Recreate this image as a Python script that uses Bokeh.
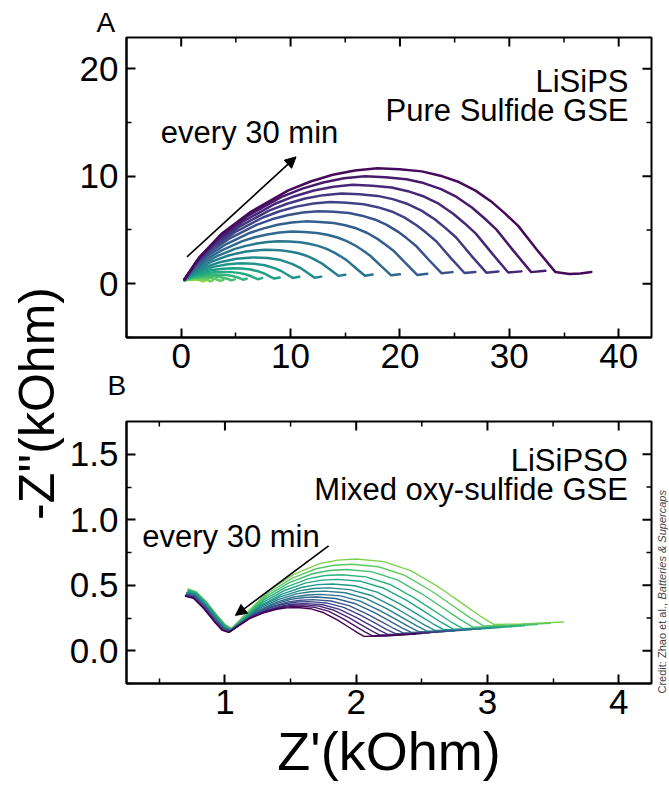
import math
from bokeh.plotting import figure
from bokeh.models import (Range1d, FixedTicker, Label, Arrow, NormalHead,
                          PrintfTickFormatter, Title)
from bokeh.layouts import row, column
from bokeh.embed import file_html
from bokeh.resources import INLINE
from bokeh.palettes import Viridis256

# ---------------- data: panel A (LiSiPS, kOhm), largest (latest) first ----------------
A_zre = [
    [0.3, 1.66, 3.69, 6.4, 9.8, 11.83, 13.86, 15.89, 17.93, 19.96, 22.0, 23.69, 25.39, 26.91, 28.44, 29.62, 30.81, 32.5, 34.2, 35.5, 36.5, 37.5],
    [0.3, 1.57, 3.47, 6.01, 9.18, 11.08, 12.98, 14.88, 16.78, 18.69, 20.59, 22.17, 23.76, 25.18, 26.61, 27.72, 28.83, 30.42, 32.0, 33.3],
    [0.3, 1.48, 3.26, 5.63, 8.59, 10.36, 12.14, 13.92, 15.69, 17.47, 19.24, 20.72, 22.2, 23.54, 24.87, 25.9, 26.94, 28.42, 29.9, 31.1],
    [0.3, 1.40, 3.06, 5.27, 8.03, 9.68, 11.34, 13.0, 14.65, 16.31, 17.96, 19.34, 20.72, 21.97, 23.21, 24.17, 25.14, 26.52, 27.9, 29.0],
    [0.3, 1.32, 2.86, 4.91, 7.47, 9.0, 10.54, 12.08, 13.61, 15.15, 16.68, 17.96, 19.24, 20.4, 21.55, 22.44, 23.34, 24.62, 25.9, 26.9],
    [0.3, 1.24, 2.65, 4.53, 6.88, 8.29, 9.7, 11.11, 12.52, 13.93, 15.34, 16.52, 17.69, 18.75, 19.81, 20.63, 21.45, 22.63, 23.8, 24.8],
    [0.3, 1.15, 2.43, 4.13, 6.26, 7.54, 8.82, 10.1, 11.38, 12.65, 13.93, 15.0, 16.06, 17.02, 17.98, 18.72, 19.47, 20.54, 21.6, 22.5],
    [0.3, 1.06, 2.19, 3.70, 5.59, 6.73, 7.86, 8.99, 10.13, 11.26, 12.40, 13.34, 14.29, 15.14, 15.99, 16.65, 17.31, 18.26, 19.2, 20.0],
    [0.3, 0.96, 1.95, 3.27, 4.92, 5.91, 6.9, 7.89, 8.88, 9.87, 10.86, 11.69, 12.51, 13.25, 14.0, 14.57, 15.15, 15.98, 16.8, 17.5],
    [0.3, 0.86, 1.71, 2.84, 4.25, 5.09, 5.94, 6.79, 7.63, 8.48, 9.32, 10.03, 10.73, 11.37, 12.0, 12.5, 12.99, 13.70, 14.4, 15.0],
    [0.3, 0.78, 1.49, 2.44, 3.63, 5.06, 6.49, 7.92, 9.11, 10.18, 11.01, 11.61, 12.2, 12.8],
    [0.3, 0.70, 1.29, 2.08, 3.07, 4.26, 5.45, 6.64, 7.63, 8.52, 9.21, 9.71, 10.2, 10.8],
    [0.3, 0.63, 1.12, 1.78, 2.60, 3.58, 4.56, 5.55, 6.37, 7.11, 7.68, 8.09, 8.5, 9.0],
    [0.3, 0.57, 0.97, 1.51, 2.18, 2.98, 3.78, 4.59, 5.26, 5.86, 6.33, 6.67, 7.0, 7.4],
    [0.3, 0.52, 0.84, 1.27, 1.81, 2.46, 3.11, 3.76, 4.30, 4.78, 5.16, 5.43, 5.7, 6.0],
    [0.3, 0.47, 0.73, 1.07, 1.50, 2.02, 2.54, 3.05, 3.48, 3.87, 4.17, 4.39, 4.6, 4.9],
    [0.3, 0.43, 0.63, 0.89, 1.22, 1.62, 2.02, 2.41, 2.74, 3.04, 3.27, 3.44, 3.6, 3.85],
    [0.3, 0.40, 0.54, 0.73, 0.97, 1.26, 1.55, 1.84, 2.08, 2.29, 2.46, 2.58, 2.7, 2.9],
    [0.3, 0.37, 0.47, 0.61, 0.78, 0.98, 1.18, 1.39, 1.56, 1.71, 1.83, 1.92, 2.0, 2.2],
]
A_zim = [
    [0.4, 2.47, 4.64, 6.71, 8.68, 9.51, 10.13, 10.54, 10.75, 10.65, 10.45, 10.05, 9.46, 8.66, 7.57, 6.52, 5.38, 3.19, 1.1, 0.9, 0.95, 1.1],
    [0.4, 2.32, 4.34, 6.26, 8.08, 8.85, 9.42, 9.81, 10.0, 9.91, 9.72, 9.36, 8.80, 8.07, 7.06, 6.09, 5.03, 3.01, 1.08, 1.2],
    [0.4, 2.16, 4.01, 5.77, 7.44, 8.14, 8.67, 9.02, 9.2, 9.12, 8.95, 8.61, 8.11, 7.44, 6.51, 5.63, 4.66, 2.82, 1.05, 1.15],
    [0.4, 2.0, 3.68, 5.28, 6.8, 7.44, 7.92, 8.24, 8.4, 8.32, 8.17, 7.87, 7.41, 6.8, 5.97, 5.17, 4.30, 2.62, 1.03, 1.13],
    [0.4, 1.84, 3.35, 4.79, 6.16, 6.74, 7.17, 7.46, 7.6, 7.53, 7.40, 7.12, 6.72, 6.17, 5.42, 4.71, 3.93, 2.43, 1.0, 1.1],
    [0.4, 1.67, 3.0, 4.27, 5.48, 5.99, 6.37, 6.62, 6.75, 6.69, 6.57, 6.33, 5.98, 5.5, 4.85, 4.22, 3.54, 2.23, 0.98, 1.08],
    [0.4, 1.48, 2.61, 3.69, 4.72, 5.15, 5.48, 5.69, 5.8, 5.75, 5.65, 5.44, 5.13, 4.72, 4.15, 3.61, 3.02, 1.89, 0.81, 0.92],
    [0.4, 1.29, 2.22, 3.11, 3.96, 4.32, 4.58, 4.76, 4.85, 4.81, 4.72, 4.56, 4.30, 3.97, 3.51, 3.07, 2.58, 1.66, 0.78, 0.88],
    [0.4, 1.11, 1.86, 2.57, 3.24, 3.52, 3.74, 3.88, 3.95, 3.92, 3.85, 3.72, 3.52, 3.26, 2.89, 2.55, 2.17, 1.44, 0.75, 0.85],
    [0.4, 0.95, 1.53, 2.08, 2.6, 2.82, 2.99, 3.10, 3.15, 3.13, 3.08, 2.98, 2.83, 2.63, 2.35, 2.09, 1.8, 1.25, 0.73, 0.83],
    [0.35, 0.77, 1.21, 1.63, 2.03, 2.32, 2.45, 2.39, 2.20, 1.83, 1.40, 0.97, 0.56, 0.66],
    [0.35, 0.66, 0.99, 1.30, 1.59, 1.81, 1.9, 1.86, 1.72, 1.45, 1.14, 0.84, 0.54, 0.64],
    [0.35, 0.57, 0.80, 1.02, 1.23, 1.38, 1.45, 1.42, 1.32, 1.13, 0.91, 0.69, 0.48, 0.58],
    [0.35, 0.5, 0.66, 0.81, 0.95, 1.06, 1.1, 1.08, 1.01, 0.88, 0.72, 0.57, 0.42, 0.52],
    [0.35, 0.45, 0.56, 0.66, 0.75, 0.82, 0.85, 0.84, 0.79, 0.69, 0.58, 0.47, 0.37, 0.47],
    [0.35, 0.42, 0.49, 0.55, 0.61, 0.66, 0.68, 0.67, 0.63, 0.56, 0.47, 0.39, 0.31, 0.41],
    [0.35, 0.39, 0.43, 0.47, 0.51, 0.54, 0.55, 0.54, 0.51, 0.45, 0.39, 0.32, 0.26, 0.36],
    [0.3, 0.33, 0.36, 0.39, 0.42, 0.44, 0.45, 0.44, 0.42, 0.37, 0.32, 0.26, 0.21, 0.31],
    [0.3, 0.32, 0.33, 0.35, 0.36, 0.375, 0.38, 0.37, 0.36, 0.32, 0.28, 0.24, 0.21, 0.3],
]

# ---------------- data: panel B (LiSiPSO, kOhm), first (highest) first ----------------
B_zre = [
    [0.72, 0.78, 0.86, 0.94, 1.00, 1.05, 1.164, 1.335, 1.525, 1.715, 1.858, 2.0, 2.21, 2.42, 2.63, 2.788, 2.945, 3.05, 3.26, 3.58],
    [0.72, 0.78, 0.86, 0.94, 1.00, 1.05, 1.16, 1.326, 1.51, 1.694, 1.832, 1.97, 2.17, 2.37, 2.57, 2.72, 2.87, 2.97, 3.17, 3.48],
    [0.72, 0.78, 0.86, 0.94, 1.00, 1.05, 1.156, 1.314, 1.49, 1.666, 1.798, 1.93, 2.122, 2.314, 2.506, 2.65, 2.794, 2.89, 3.09, 3.38],
    [0.72, 0.78, 0.86, 0.94, 1.00, 1.05, 1.151, 1.302, 1.47, 1.638, 1.764, 1.89, 2.074, 2.258, 2.442, 2.58, 2.718, 2.81, 3.0, 3.28],
    [0.72, 0.78, 0.86, 0.94, 1.00, 1.05, 1.147, 1.293, 1.455, 1.617, 1.739, 1.86, 2.036, 2.212, 2.388, 2.52, 2.652, 2.74, 2.92, 3.19],
    [0.72, 0.78, 0.86, 0.94, 1.00, 1.05, 1.142, 1.281, 1.435, 1.589, 1.705, 1.82, 1.99, 2.16, 2.33, 2.458, 2.585, 2.67, 2.84, 3.10],
    [0.71, 0.77, 0.85, 0.93, 0.99, 1.04, 1.13, 1.265, 1.415, 1.565, 1.678, 1.79, 1.952, 2.114, 2.276, 2.398, 2.519, 2.60, 2.77, 3.02],
    [0.71, 0.77, 0.85, 0.93, 0.99, 1.04, 1.126, 1.256, 1.40, 1.544, 1.652, 1.76, 1.916, 2.072, 2.228, 2.345, 2.462, 2.54, 2.70, 2.95],
    [0.71, 0.77, 0.85, 0.93, 0.99, 1.04, 1.123, 1.247, 1.385, 1.523, 1.627, 1.73, 1.88, 2.03, 2.18, 2.293, 2.405, 2.48, 2.64, 2.88],
    [0.71, 0.77, 0.85, 0.93, 0.99, 1.04, 1.119, 1.238, 1.37, 1.502, 1.601, 1.70, 1.844, 1.988, 2.132, 2.24, 2.348, 2.42, 2.58, 2.81],
    [0.71, 0.77, 0.85, 0.93, 0.99, 1.04, 1.116, 1.229, 1.355, 1.481, 1.576, 1.67, 1.808, 1.946, 2.084, 2.188, 2.291, 2.36, 2.52, 2.75],
    [0.70, 0.76, 0.84, 0.92, 0.98, 1.03, 1.103, 1.213, 1.335, 1.457, 1.549, 1.64, 1.772, 1.904, 2.036, 2.135, 2.234, 2.30, 2.45, 2.68],
    [0.70, 0.76, 0.84, 0.92, 0.98, 1.03, 1.101, 1.207, 1.325, 1.443, 1.532, 1.62, 1.744, 1.868, 1.992, 2.085, 2.178, 2.24, 2.39, 2.62],
    [0.70, 0.76, 0.84, 0.92, 0.98, 1.03, 1.098, 1.201, 1.315, 1.429, 1.515, 1.60, 1.716, 1.832, 1.948, 2.035, 2.122, 2.18, 2.33, 2.56],
    [0.70, 0.76, 0.84, 0.92, 0.98, 1.03, 1.095, 1.194, 1.303, 1.412, 1.493, 1.575, 1.684, 1.793, 1.902, 1.984, 2.066, 2.12, 2.27, 2.50],
    [0.70, 0.76, 0.84, 0.92, 0.98, 1.03, 1.092, 1.186, 1.29, 1.394, 1.472, 1.55, 1.652, 1.754, 1.856, 1.933, 2.009, 2.06, 2.22, 2.45],
]
B_zim = [
    [0.47, 0.45, 0.37, 0.27, 0.20, 0.17, 0.287, 0.46, 0.583, 0.663, 0.692, 0.70, 0.68, 0.61, 0.485, 0.375, 0.265, 0.20, 0.205, 0.22],
    [0.47, 0.45, 0.37, 0.27, 0.20, 0.168, 0.276, 0.439, 0.552, 0.626, 0.653, 0.66, 0.641, 0.575, 0.458, 0.355, 0.251, 0.19, 0.195, 0.21],
    [0.465, 0.445, 0.365, 0.265, 0.195, 0.165, 0.265, 0.415, 0.52, 0.588, 0.613, 0.62, 0.602, 0.541, 0.431, 0.334, 0.237, 0.18, 0.185, 0.20],
    [0.46, 0.44, 0.36, 0.26, 0.19, 0.162, 0.254, 0.392, 0.488, 0.551, 0.574, 0.58, 0.564, 0.506, 0.404, 0.314, 0.223, 0.17, 0.175, 0.19],
    [0.455, 0.435, 0.355, 0.255, 0.185, 0.16, 0.245, 0.372, 0.46, 0.518, 0.539, 0.545, 0.53, 0.477, 0.382, 0.298, 0.214, 0.165, 0.17, 0.185],
    [0.45, 0.43, 0.35, 0.25, 0.18, 0.157, 0.235, 0.351, 0.432, 0.485, 0.505, 0.51, 0.496, 0.447, 0.36, 0.283, 0.206, 0.16, 0.163, 0.178],
    [0.445, 0.43, 0.35, 0.25, 0.18, 0.155, 0.227, 0.334, 0.409, 0.457, 0.475, 0.48, 0.467, 0.422, 0.34, 0.269, 0.197, 0.155, 0.158, 0.172],
    [0.44, 0.425, 0.345, 0.245, 0.175, 0.152, 0.219, 0.319, 0.388, 0.434, 0.45, 0.455, 0.443, 0.40, 0.324, 0.257, 0.19, 0.15, 0.153, 0.167],
    [0.435, 0.42, 0.34, 0.24, 0.172, 0.15, 0.212, 0.304, 0.368, 0.41, 0.426, 0.43, 0.419, 0.379, 0.307, 0.245, 0.182, 0.145, 0.148, 0.162],
    [0.43, 0.415, 0.335, 0.235, 0.17, 0.148, 0.206, 0.292, 0.352, 0.392, 0.406, 0.41, 0.399, 0.361, 0.294, 0.235, 0.175, 0.14, 0.143, 0.157],
    [0.43, 0.415, 0.335, 0.235, 0.168, 0.146, 0.20, 0.28, 0.336, 0.373, 0.386, 0.39, 0.38, 0.344, 0.28, 0.224, 0.168, 0.135, 0.138, 0.152],
    [0.425, 0.41, 0.33, 0.23, 0.165, 0.145, 0.196, 0.272, 0.324, 0.359, 0.372, 0.375, 0.365, 0.331, 0.27, 0.216, 0.162, 0.13, 0.133, 0.147],
    [0.42, 0.41, 0.33, 0.23, 0.165, 0.143, 0.191, 0.262, 0.312, 0.345, 0.357, 0.36, 0.351, 0.318, 0.259, 0.207, 0.156, 0.125, 0.128, 0.142],
    [0.42, 0.405, 0.325, 0.225, 0.16, 0.142, 0.188, 0.256, 0.304, 0.335, 0.347, 0.35, 0.341, 0.309, 0.251, 0.20, 0.15, 0.12, 0.123, 0.137],
    [0.42, 0.405, 0.325, 0.225, 0.16, 0.141, 0.185, 0.25, 0.296, 0.326, 0.337, 0.34, 0.331, 0.30, 0.243, 0.194, 0.144, 0.115, 0.118, 0.132],
    [0.415, 0.40, 0.32, 0.22, 0.155, 0.14, 0.182, 0.245, 0.288, 0.317, 0.327, 0.33, 0.321, 0.29, 0.235, 0.187, 0.139, 0.11, 0.113, 0.127],
]

A_xticks = [0, 10, 20, 30, 40]
A_xminor = [-5, 5, 15, 25, 35]
A_yticks = [0, 10, 20]
A_yminor = [-5, 5, 15]
B_xticks = [1, 2, 3, 4]
B_xminor = [0.5, 1.5, 2.5, 3.5]
B_yticks = [0.0, 0.5, 1.0, 1.5]
B_yminor = [-0.25, 0.25, 0.75, 1.25]

FONT = "Liberation Sans"
TICK_SIZE = "35px"
TEXT_SIZE = "31px"
LEFT_W = 66      # width of the strip holding the shared y label
CRED_W = 16      # width of the strip holding the credit line
TOTAL_H = 803


def style_axis(ax, standoff):
    ax.axis_line_color = "black"
    ax.axis_line_width = 2
    ax.major_tick_in = 9
    ax.major_tick_out = 0
    ax.minor_tick_in = 5
    ax.minor_tick_out = 0
    ax.major_tick_line_color = "black"
    ax.major_tick_line_width = 2
    ax.minor_tick_line_color = "black"
    ax.minor_tick_line_width = 1.5
    ax.major_label_text_font = FONT
    ax.major_label_text_color = "black"
    ax.major_label_text_font_size = TICK_SIZE
    ax.major_label_standoff = standoff


def mirror_ticks(p, xr, yr, xt, xm, yt, ym, px_x, px_y):
    # inward ticks on the top and right frame edges (px_* = data units per pixel)
    top = yr[1]
    right = xr[1]
    xs_maj = [x for x in xt if xr[0] < x < xr[1]]
    xs_min = [x for x in xm if xr[0] < x < xr[1]]
    ys_maj = [y for y in yt if yr[0] < y < yr[1]]
    ys_min = [y for y in ym if yr[0] < y < yr[1]]
    p.segment(x0=xs_maj, y0=[top] * len(xs_maj), x1=xs_maj,
              y1=[top - 9 * px_y] * len(xs_maj), line_color="black", line_width=2)
    p.segment(x0=xs_min, y0=[top] * len(xs_min), x1=xs_min,
              y1=[top - 5 * px_y] * len(xs_min), line_color="black", line_width=1.5)
    p.segment(x0=[right] * len(ys_maj), y0=ys_maj, x1=[right - 9 * px_x] * len(ys_maj),
              y1=ys_maj, line_color="black", line_width=2)
    p.segment(x0=[right] * len(ys_min), y0=ys_min, x1=[right - 5 * px_x] * len(ys_min),
              y1=ys_min, line_color="black", line_width=1.5)


def make_panel(xr, yr, xt, xm, yt, ym, mb_top, mb_bottom, frame_h, yfmt=None):
    p = figure(frame_width=525, frame_height=frame_h,
               x_range=Range1d(*xr), y_range=Range1d(*yr),
               output_backend="svg", toolbar_location=None,
               min_border_left=126 - LEFT_W, min_border_right=2,
               min_border_top=mb_top, min_border_bottom=mb_bottom,
               background_fill_color="white", border_fill_color="white")
    p.xgrid.visible = False
    p.ygrid.visible = False
    p.outline_line_color = "black"
    p.outline_line_width = 2
    p.xaxis.ticker = FixedTicker(ticks=xt, minor_ticks=xm)
    p.yaxis.ticker = FixedTicker(ticks=yt, minor_ticks=ym)
    for ax in p.xaxis:
        style_axis(ax, 6)
    for ax in p.yaxis:
        style_axis(ax, 8)
        if yfmt is not None:
            ax.formatter = yfmt
    mirror_ticks(p, xr, yr, xt, xm, yt, ym,
                 (xr[1] - xr[0]) / 525.0, (yr[1] - yr[0]) / frame_h)
    return p


def text(p, x, y, s, align="left", size=TEXT_SIZE, angle=0.0, style="normal",
         color="black", baseline="middle"):
    p.add_layout(Label(x=x, y=y, text=s, text_align=align, text_baseline=baseline,
                       text_font=FONT, text_font_size=size, text_color=color,
                       text_font_style=style, angle=angle))


# ---------------- panel A ----------------
A_xr, A_yr = (-5, 43), (-5, 22.9)
pA = make_panel(A_xr, A_yr, A_xticks, A_xminor, A_yticks, A_yminor, 37, 68, 300)
pA.title.text = "A"
pA.title.align = "left"
pA.title.offset = -30
pA.title.standoff = 0
pA.title.text_font = FONT
pA.title.text_font_size = "28px"
pA.title.text_font_style = "normal"
pA.title.text_color = "black"
pA.add_layout(Title(text="B", align="left", offset=-19, standoff=-6, text_font=FONT,
                    text_font_size="28px", text_font_style="normal",
                    text_color="black"), "below")

nA = len(A_zre)
for i in reversed(range(nA)):
    idx = int(round(6 + (215 - 6) * i / (nA - 1)))
    pA.line(A_zre[i], A_zim[i], line_color=Viridis256[idx], line_width=2.5,
            line_join="round", line_cap="round")

text(pA, 40.9, 18.8, "LiSiPS", align="right")
text(pA, 40.9, 16.1, "Pure Sulfide GSE", align="right")
text(pA, -1.86, 14.1, "every 30 min")
pA.add_layout(Arrow(end=NormalHead(size=11, fill_color="black", line_color="black"),
                    x_start=0.53, y_start=2.5, x_end=10.5, y_end=11.8,
                    line_color="black", line_width=1.6))

# ---------------- panel B ----------------
B_xr, B_yr = (0.25, 4.25), (-0.25, 1.75)
pB = make_panel(B_xr, B_yr, B_xticks, B_xminor, B_yticks, B_yminor, 16, 120, 262,
                yfmt=PrintfTickFormatter(format="%.1f"))
pB.title_location = None
xb = pB.below[0]
xb.axis_label = "Z'(kOhm)"
xb.axis_label_text_font = FONT
xb.axis_label_text_font_size = "54px"
xb.axis_label_text_font_style = "normal"
xb.axis_label_text_color = "black"
xb.axis_label_standoff = 4

nB = len(B_zre)
for k in range(nB):
    idx = int(round(205 - 205 * k / (nB - 1)))
    pB.line(B_zre[k], B_zim[k], line_color=Viridis256[idx], line_width=1.4,
            line_join="round", line_cap="round")

text(pB, 4.07, 1.45, "LiSiPSO", align="right")
text(pB, 4.07, 1.23, "Mixed oxy-sulfide GSE", align="right")
text(pB, 0.37, 0.875, "every 30 min")
pB.add_layout(Arrow(end=NormalHead(size=11, fill_color="black", line_color="black"),
                    x_start=1.79, y_start=0.80, x_end=1.08, y_end=0.27,
                    line_color="black", line_width=1.6))

# ---------------- shared y label strip ----------------
pL = figure(width=LEFT_W, height=TOTAL_H, x_range=Range1d(0, LEFT_W),
            y_range=Range1d(0, TOTAL_H), output_backend="svg", toolbar_location=None,
            x_axis_location=None, y_axis_location=None, min_border=0)
pL.xgrid.visible = False
pL.ygrid.visible = False
pL.outline_line_color = None
pL.add_layout(Label(x=36, y=TOTAL_H - 403, text="-Z''(kOhm)", angle=math.pi / 2,
                    text_align="center", text_baseline="middle",
                    text_font=FONT, text_font_size="50px", text_color="black"))

# ---------------- credit strip ----------------
pC = figure(width=CRED_W, height=TOTAL_H, x_range=Range1d(0, CRED_W),
            y_range=Range1d(0, TOTAL_H), output_backend="svg", toolbar_location=None,
            x_axis_location=None, y_axis_location=None, min_border=0)
pC.xgrid.visible = False
pC.ygrid.visible = False
pC.outline_line_color = None
text(pC, 8, TOTAL_H - 693, "Credit: Zhao et al., ", size="11px", angle=math.pi / 2,
     color="#444444")
text(pC, 8, TOTAL_H - 693 + 94, "Batteries & Supercaps", size="11px",
     angle=math.pi / 2, style="italic", color="#444444")

layout = row(pL, column(pA, pB), pC)
open("out.html", "w").write(file_html(layout, INLINE, "EIS"))
